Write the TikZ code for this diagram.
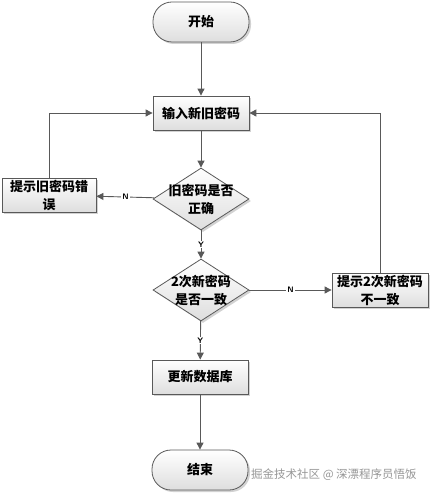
\documentclass[tikz,border=0pt]{standalone}
\usepackage{fontspec}
\setmainfont{Liberation Sans}
\newfontfamily\cjk{Noto Sans CJK SC}
\usetikzlibrary{shapes.geometric,arrows.meta,shadows}

\definecolor{edgegray}{RGB}{89,89,89}
\definecolor{fillgray}{RGB}{222,222,222}
\definecolor{markgray}{RGB}{150,150,150}

\tikzset{
  procbox/.style={draw=edgegray,line width=0.8pt,top color=white,bottom color=fillgray,
    drop shadow={shadow xshift=2pt,shadow yshift=-2pt,fill=black!35},
    minimum width=96pt,minimum height=34pt,inner sep=1pt,align=center,
    font=\cjk\bfseries\fontsize{13}{18}\selectfont},
  termbox/.style={procbox,rounded corners=19pt,minimum height=40pt},
  decbox/.style={procbox,diamond,minimum width=96pt,minimum height=62pt,inner sep=0pt,
    label={[align=center,font=\cjk\bfseries\fontsize{13}{18}\selectfont]center:#1}},
  flow/.style={draw=edgegray,line width=0.9pt,-{Triangle[length=7pt,width=7pt]}},
  yn/.style={fill=white,inner sep=1pt,font=\sffamily\bfseries\fontsize{8}{8}\selectfont}
}

\begin{document}
\begin{tikzpicture}[x=1pt,y=1pt,yscale=-1,xscale=1]
  \useasboundingbox (0,0) rectangle (431,494);

  % Nodes
  \node[termbox] (start) at (201,22) {开始};
  \node[procbox] (input) at (201,113) {输入新旧密码};
  \node[decbox={旧密码是否\\正确}] (chkold) at (201,199) {};
  \node[procbox,minimum width=94pt] (errold) at (49,195) {提示旧密码错\\误};
  \node[decbox={2次新密码\\是否一致}] (chknew) at (201,290) {};
  \node[procbox] (errnew) at (380,290) {提示2次新密码\\不一致};
  \node[procbox] (update) at (200,377) {更新数据库};
  \node[termbox] (stop) at (200,470) {结束};

  % Connectors
  \draw[flow] (start) -- (input);
  \draw[flow] (input) -- (chkold);
  \draw[flow] (chkold) -- node[yn] {N} (errold);
  \draw[flow] (chkold) -- node[yn] {Y} (chknew);
  \draw[flow] (chknew) -- node[yn] {N} (errnew);
  \draw[flow] (chknew) -- node[yn] {Y} (update);
  \draw[flow] (update) -- (stop);
  \draw[flow] (errold.north) |- (input.west);
  \draw[flow] (errnew.north) |- (input.east);

  % Watermark
  \node[anchor=west,text=markgray,inner sep=0pt,font=\cjk\fontsize{11.5}{12}\selectfont] (mark) at (251,475) {掘金技术社区 @ 深漂程序员悟饭};
\end{tikzpicture}
\end{document}
